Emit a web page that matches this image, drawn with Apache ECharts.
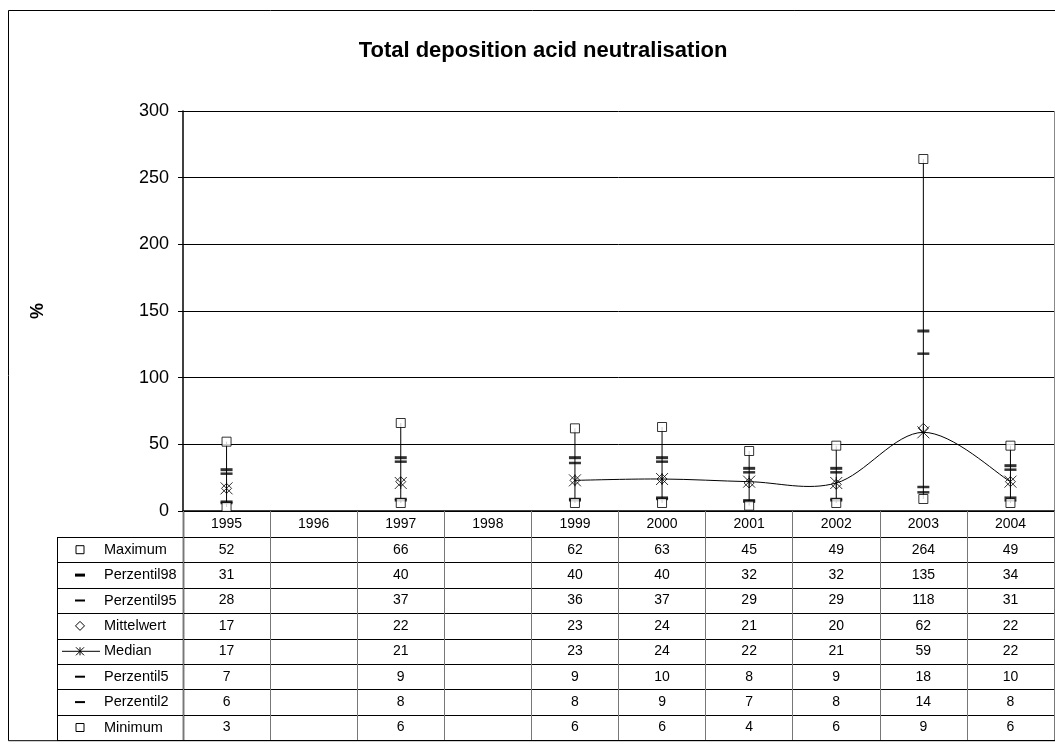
<!DOCTYPE html>
<html>
<head>
<meta charset="utf-8">
<title>Total deposition acid neutralisation</title>
<script src="https://cdn.jsdelivr.net/npm/echarts@6/dist/echarts.min.js"></script>
<style>
    html, body { margin: 0; padding: 0; background: #fff; }
    #chart { width: 1055px; height: 747px; }
</style>
</head>
<body>
<div id="chart"></div>
<script>
// 数据
const years = ['1995', '1996', '1997', '1998', '1999', '2000', '2001', '2002', '2003', '2004'];
const maximum     = [52, null, 66, null, 62, 63, 45, 49, 264, 49];
const perzentil98 = [31, null, 40, null, 40, 40, 32, 32, 135, 34];
const perzentil95 = [28, null, 37, null, 36, 37, 29, 29, 118, 31];
const mittelwert  = [17, null, 22, null, 23, 24, 21, 20, 62, 22];
const median      = [17, null, 21, null, 23, 24, 22, 21, 59, 22];
const perzentil5  = [7, null, 9, null, 9, 10, 8, 9, 18, 10];
const perzentil2  = [6, null, 8, null, 8, 9, 7, 8, 14, 8];
const minimum     = [3, null, 6, null, 6, 6, 4, 6, 9, 6];
const yTicks = [0, 50, 100, 150, 200, 250, 300];

const FONT = 'Liberation Sans, Arial, sans-serif';
const ASTERISK = 'path://M0,0L10,10M10,0L0,10M5,0L5,10';
const DIAMOND = 'path://M5,0L10,5L5,10L0,5Z';

// 表格行: 名称 / 数据 / 图例符号
const rows = [
    { name: 'Maximum',     data: maximum,     key: 'square' },
    { name: 'Perzentil98', data: perzentil98, key: 'dashThick' },
    { name: 'Perzentil95', data: perzentil95, key: 'dash' },
    { name: 'Mittelwert',  data: mittelwert,  key: 'diamond' },
    { name: 'Median',      data: median,      key: 'median' },
    { name: 'Perzentil5',  data: perzentil5,  key: 'dash' },
    { name: 'Perzentil2',  data: perzentil2,  key: 'dash' },
    { name: 'Minimum',     data: minimum,     key: 'square' }
];

// 各符号的样式
const symbolStyle = {
    square:    { z: 4, symbol: 'rect', symbolSize: 9, itemStyle: { color: '#fff', borderColor: '#000', borderWidth: 1 } },
    dashThick: { z: 3, symbol: 'rect', symbolSize: [12, 3], itemStyle: { color: '#000' } },
    dash:      { z: 3, symbol: 'rect', symbolSize: [12, 2.5], itemStyle: { color: '#000' } },
    diamond:   { z: 4, symbol: DIAMOND, symbolSize: 10, itemStyle: { color: 'none', borderColor: '#000', borderWidth: 1 } },
    median:    { z: 5, symbol: ASTERISK, symbolSize: 12, itemStyle: { color: 'none', borderColor: '#000', borderWidth: 1 } }
};

const toSeriesData = (arr) => arr.map((v) => (v == null ? '-' : v));

const myChart = echarts.init(document.getElementById('chart'));

// 最小值 - 最大值 竖线
const whiskerData = years
    .map((y, i) => [i, minimum[i], maximum[i]])
    .filter((d) => d[1] != null && d[2] != null);

// 中位数平滑线 (Catmull-Rom 分段, 遇空值断开)
const medianSegments = [];
for (let i = 0; i < median.length - 1; i++) {
    if (median[i] != null && median[i + 1] != null) medianSegments.push([i, median[i], i + 1, median[i + 1]]);
}

const series = [{
    type: 'custom',
    name: 'range',
    z: 1,
    silent: true,
    data: whiskerData,
    encode: { x: 0, y: [1, 2] },
    renderItem: (params, api) => {
        const p1 = api.coord([api.value(0), api.value(1)]);
        const p2 = api.coord([api.value(0), api.value(2)]);
        return {
            type: 'line',
            shape: { x1: p1[0], y1: p1[1], x2: p2[0], y2: p2[1] },
            style: { stroke: '#000', lineWidth: 1 }
        };
    }
}, {
    type: 'custom',
    name: 'medianLine',
    z: 2,
    silent: true,
    data: medianSegments,
    encode: { x: [0, 2], y: [1, 3] },
    renderItem: (params, api) => {
        const i1 = api.value(0), i2 = api.value(2);
        const p1 = api.coord([i1, api.value(1)]);
        const p2 = api.coord([i2, api.value(3)]);
        const i0 = i1 - 1, i3 = i2 + 1;
        const p0 = (i0 >= 0 && median[i0] != null) ? api.coord([i0, median[i0]]) : p1;
        const p3 = (i3 < median.length && median[i3] != null) ? api.coord([i3, median[i3]]) : p2;
        const c1 = [p1[0] + (p2[0] - p0[0]) / 6, p1[1] + (p2[1] - p0[1]) / 6];
        const c2 = [p2[0] - (p3[0] - p1[0]) / 6, p2[1] - (p3[1] - p1[1]) / 6];
        return {
            type: 'bezierCurve',
            shape: { x1: p1[0], y1: p1[1], cpx1: c1[0], cpy1: c1[1], cpx2: c2[0], cpy2: c2[1], x2: p2[0], y2: p2[1] },
            style: { stroke: '#000', lineWidth: 1, fill: 'none' }
        };
    }
}];

rows.forEach((row) => {
    const st = symbolStyle[row.key];
    series.push({
        type: 'scatter',
        name: row.name,
        z: st.z,
        data: toSeriesData(row.data),
        symbol: st.symbol,
        symbolSize: st.symbolSize,
        itemStyle: st.itemStyle,
        emphasis: { disabled: true }
    });
});

let option = {
    animation: false,
    backgroundColor: '#fff',
    title: {
        text: 'Total deposition acid neutralisation',
        left: 538,
        top: 35,
        textAlign: 'center',
        textStyle: { fontFamily: FONT, fontSize: 22, fontWeight: 'bold', color: '#000' }
    },
    grid: { left: 183, right: 1, top: 111, bottom: 236 },
    xAxis: {
        type: 'category',
        data: years,
        boundaryGap: true,
        axisLine: { lineStyle: { color: '#000', width: 1.5 } },
        axisTick: { show: true, interval: 0, length: 229, lineStyle: { color: '#777', width: 1 } },
        axisLabel: { interval: 0, margin: 6, fontFamily: FONT, fontSize: 14, color: '#000' },
        splitLine: { show: false }
    },
    yAxis: {
        type: 'value',
        min: yTicks[0],
        max: yTicks[yTicks.length - 1],
        interval: yTicks[1] - yTicks[0],
        name: '%',
        nameLocation: 'middle',
        nameRotate: 90,
        nameGap: 136,
        nameTextStyle: { fontFamily: FONT, fontSize: 18, fontWeight: 'bold', color: '#000' },
        axisLine: { show: true, lineStyle: { color: '#000', width: 1.5 } },
        axisTick: { show: true, length: 5, lineStyle: { color: '#000' } },
        axisLabel: { margin: 14, fontFamily: FONT, fontSize: 18, color: '#000' },
        splitLine: { show: true, lineStyle: { color: '#000', width: 1 } }
    },
    series: series
};

myChart.setOption(option);

// 画数据表格
function drawTable() {
    const g = [];
    const left = 57;
    const labelX = 104;
    const keyX = 80;
    const axisX = 183;
    const rightX = myChart.getWidth() - 1;
    const zeroY = myChart.convertToPixel({ yAxisIndex: 0 }, 0);
    const headerBottom = zeroY + 26;
    const rowH = 25.4;
    const bottom = headerBottom + rowH * rows.length;

    // 外框
    g.push({ type: 'rect', shape: { x: 8.5, y: 10.5, width: 1060, height: bottom - 10 }, style: { fill: 'none', stroke: '#000', lineWidth: 1 }, z: 0 });
    // 绘图区右边框
    g.push({ type: 'line', shape: { x1: rightX + 0.5, y1: 111, x2: rightX + 0.5, y2: zeroY }, style: { stroke: '#888', lineWidth: 1 } });

    // 横线
    for (let r = 0; r <= rows.length; r++) {
        const y = Math.round(headerBottom + rowH * r) + 0.5;
        g.push({ type: 'line', shape: { x1: left, y1: y, x2: rightX + 1, y2: y }, style: { stroke: '#000', lineWidth: 1 } });
    }
    // 竖线
    g.push({ type: 'line', shape: { x1: left + 0.5, y1: headerBottom, x2: left + 0.5, y2: bottom }, style: { stroke: '#000', lineWidth: 1 } });
    g.push({ type: 'line', shape: { x1: axisX + 0.5, y1: zeroY, x2: axisX + 0.5, y2: bottom }, style: { stroke: '#000', lineWidth: 1.5 } });

    rows.forEach((row, r) => {
        const cy = headerBottom + rowH * r + rowH / 2;
        // 行名
        g.push({ type: 'text', style: { text: row.name, x: labelX, y: cy, textVerticalAlign: 'middle', font: '14.5px ' + FONT, fill: '#000' } });
        // 图例符号
        if (row.key === 'square') {
            g.push({ type: 'rect', shape: { x: keyX - 4, y: cy - 4, width: 8, height: 8 }, style: { fill: '#fff', stroke: '#000', lineWidth: 1 } });
        } else if (row.key === 'dashThick') {
            g.push({ type: 'rect', shape: { x: keyX - 5, y: cy - 1.5, width: 10, height: 3 }, style: { fill: '#000' } });
        } else if (row.key === 'dash') {
            g.push({ type: 'rect', shape: { x: keyX - 5, y: cy - 1, width: 10, height: 2 }, style: { fill: '#000' } });
        } else if (row.key === 'diamond') {
            g.push({ type: 'polygon', shape: { points: [[keyX, cy - 4.5], [keyX + 4.5, cy], [keyX, cy + 4.5], [keyX - 4.5, cy]] }, style: { fill: '#fff', stroke: '#000', lineWidth: 1 } });
        } else if (row.key === 'median') {
            g.push({ type: 'line', shape: { x1: 62, y1: cy, x2: 100, y2: cy }, style: { stroke: '#000', lineWidth: 1 } });
            g.push({ type: 'line', shape: { x1: keyX - 4, y1: cy - 4, x2: keyX + 4, y2: cy + 4 }, style: { stroke: '#000', lineWidth: 1 } });
            g.push({ type: 'line', shape: { x1: keyX + 4, y1: cy - 4, x2: keyX - 4, y2: cy + 4 }, style: { stroke: '#000', lineWidth: 1 } });
            g.push({ type: 'line', shape: { x1: keyX, y1: cy - 4, x2: keyX, y2: cy + 4 }, style: { stroke: '#000', lineWidth: 1 } });
        }
        // 数值
        years.forEach((y, i) => {
            const v = row.data[i];
            if (v == null) return;
            const cx = myChart.convertToPixel({ xAxisIndex: 0 }, y);
            g.push({ type: 'text', style: { text: String(v), x: cx, y: cy, textAlign: 'center', textVerticalAlign: 'middle', font: '14px ' + FONT, fill: '#000' } });
        });
    });

    myChart.setOption({ graphic: g });
}

drawTable();
</script>
</body>
</html>
